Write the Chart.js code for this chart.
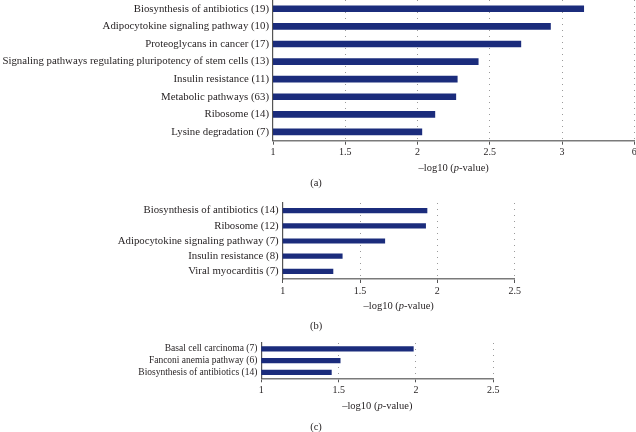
<!DOCTYPE html>
<html>
<head>
<meta charset="utf-8">
<script src="https://cdn.jsdelivr.net/npm/chart.js@4.4.0/dist/chart.umd.min.js"></script>
<style>
  html, body { margin: 0; padding: 0; background: #fff; overflow: hidden; }
  body { width: 636px; height: 432px; position: relative; }
  .panel { position: absolute; left: 0; }
</style>
</head>
<body>
<div class="panel" style="top:0px;width:637px;height:190px"><canvas id="chartA"></canvas></div>
<div class="panel" style="top:190px;width:636px;height:145px"><canvas id="chartB"></canvas></div>
<div class="panel" style="top:335px;width:636px;height:97px"><canvas id="chartC"></canvas></div>
<script>
// panel (a)
const pathwaysA = [
     'Biosynthesis of antibiotics (19)',
     'Adipocytokine signaling pathway (10)',
     'Proteoglycans in cancer (17)',
     'Signaling pathways regulating pluripotency of stem cells (13)',
     'Insulin resistance (11)',
     'Metabolic pathways (63)',
     'Ribosome (14)',
     'Lysine degradation (7)'
];
const valuesA = [3.15, 2.92, 2.715, 2.42, 2.275, 2.265, 2.12, 2.03];
const ticksA = ['1', '1.5', '2', '2.5', '3', '6'];

// panel (b)
const pathwaysB = [
     'Biosynthesis of antibiotics (14)',
     'Ribosome (12)',
     'Adipocytokine signaling pathway (7)',
     'Insulin resistance (8)',
     'Viral myocarditis (7)'
];
const valuesB = [1.933, 1.924, 1.66, 1.385, 1.325];
const ticksB = ['1', '1.5', '2', '2.5'];

// panel (c)
const pathwaysC = [
     'Basal cell carcinoma (7)',
     'Fanconi anemia pathway (6)',
     'Biosynthesis of antibiotics (14)'
];
const valuesC = [1.983, 1.51, 1.453];
const ticksC = ['1', '1.5', '2', '2.5'];

const axisTitle = [['–log10 (', 'normal'], ['p', 'italic'], ['-value)', 'normal']];

const serif = '"Liberation Serif", "DejaVu Serif", serif';
const barColor = '#1b2c7c';

// draws the x axis title (italic p) and the panel caption
const captionPlugin = {
     id: 'captions',
     afterDraw(chart, args, opts) {
          const ctx = chart.ctx;
          const area = chart.chartArea;
          ctx.save();
          ctx.fillStyle = '#231f20';
          ctx.textBaseline = 'middle';
          ctx.textAlign = 'left';

          let total = 0;
          axisTitle.forEach(([txt, style]) => {
               ctx.font = `${style} ${opts.titleSize}px ${serif}`;
               total += ctx.measureText(txt).width;
          });
          let x = (area.left + area.right) / 2 - total / 2 + opts.titleShift;
          axisTitle.forEach(([txt, style]) => {
               ctx.font = `${style} ${opts.titleSize}px ${serif}`;
               ctx.fillText(txt, x, opts.titleY);
               x += ctx.measureText(txt).width;
          });

          ctx.font = `${opts.titleSize}px ${serif}`;
          ctx.textAlign = 'center';
          ctx.fillText(opts.caption, 316, opts.captionY);
          ctx.restore();
     }
};

function buildPanel(id, labels, values, tickLabels, cfg) {
     const ctx = document.getElementById(id).getContext('2d');
     return new Chart(ctx, {
          type: 'bar',
          data: {
               labels: labels,
               datasets: [{
                    data: values,
                    backgroundColor: barColor,
                    borderWidth: 0,
                    barThickness: cfg.barThickness
               }]
          },
          plugins: [captionPlugin],
          options: {
               indexAxis: 'y',
               responsive: true,
               maintainAspectRatio: false,
               animation: false,
               layout: { padding: { top: cfg.top, right: cfg.right, left: 0, bottom: 0 } },
               plugins: {
                    legend: { display: false },
                    tooltip: { enabled: false },
                    captions: {
                         caption: cfg.caption,
                         captionY: cfg.captionY,
                         titleY: cfg.titleY,
                         titleSize: cfg.titleSize,
                         titleShift: cfg.titleShift || 0
                    }
               },
               scales: {
                    x: {
                         type: 'linear',
                         min: 1,
                         max: cfg.max,
                         afterBuildTicks: (scale) => {
                              scale.ticks = tickLabels.map((t, i) => ({ value: 1 + i * 0.5 }));
                         },
                         afterFit: (scale) => {
                              scale.height = cfg.xHeight;
                              scale.paddingLeft = 0;
                              scale.paddingRight = 0;
                         },
                         ticks: {
                              autoSkip: false,
                              maxRotation: 0,
                              padding: 2,
                              color: '#231f20',
                              font: { family: serif, size: cfg.tickSize },
                              callback: (v, i) => tickLabels[i]
                         },
                         grid: {
                              color: (c) => c.index === 0 ? 'rgba(0,0,0,0)' : '#9a9a9a',
                              lineWidth: 1,
                              drawTicks: true,
                              tickLength: 4,
                              tickColor: '#555',
                              tickWidth: 1
                         },
                         border: { display: true, color: '#7a7a7a', width: 1.5, dash: [1, 5] }
                    },
                    y: {
                         afterFit: (scale) => {
                              scale.width = cfg.left;
                              scale.paddingTop = 0;
                              scale.paddingBottom = 0;
                         },
                         ticks: {
                              autoSkip: false,
                              padding: 4,
                              color: '#231f20',
                              font: { family: serif, size: cfg.labelSize }
                         },
                         grid: { display: false, drawTicks: false },
                         border: { display: true, color: '#555', width: 1.2 }
                    }
               }
          }
     });
}

buildPanel('chartA', pathwaysA, valuesA, ticksA, {
     max: 3.5, left: 273, top: 0, right: 2.7, xHeight: 49.3,
     barThickness: 6, labelSize: 10.8, tickSize: 10, titleSize: 10.5,
     titleY: 168, caption: '(a)', captionY: 183
});

buildPanel('chartB', pathwaysB, valuesB, ticksB, {
     max: 2.5, left: 282.7, top: 13, right: 121.3, xHeight: 56,
     barThickness: 4.5, labelSize: 10.8, tickSize: 10, titleSize: 10.5,
     titleY: 116.7, caption: '(b)', captionY: 136.7
});

buildPanel('chartC', pathwaysC, valuesC, ticksC, {
     max: 2.5, left: 261.3, top: 8, right: 142.7, xHeight: 53.7,
     barThickness: 4.5, labelSize: 9.5, tickSize: 10, titleSize: 10.5,
     titleY: 71.7, caption: '(c)', captionY: 92
});
</script>
</body>
</html>
